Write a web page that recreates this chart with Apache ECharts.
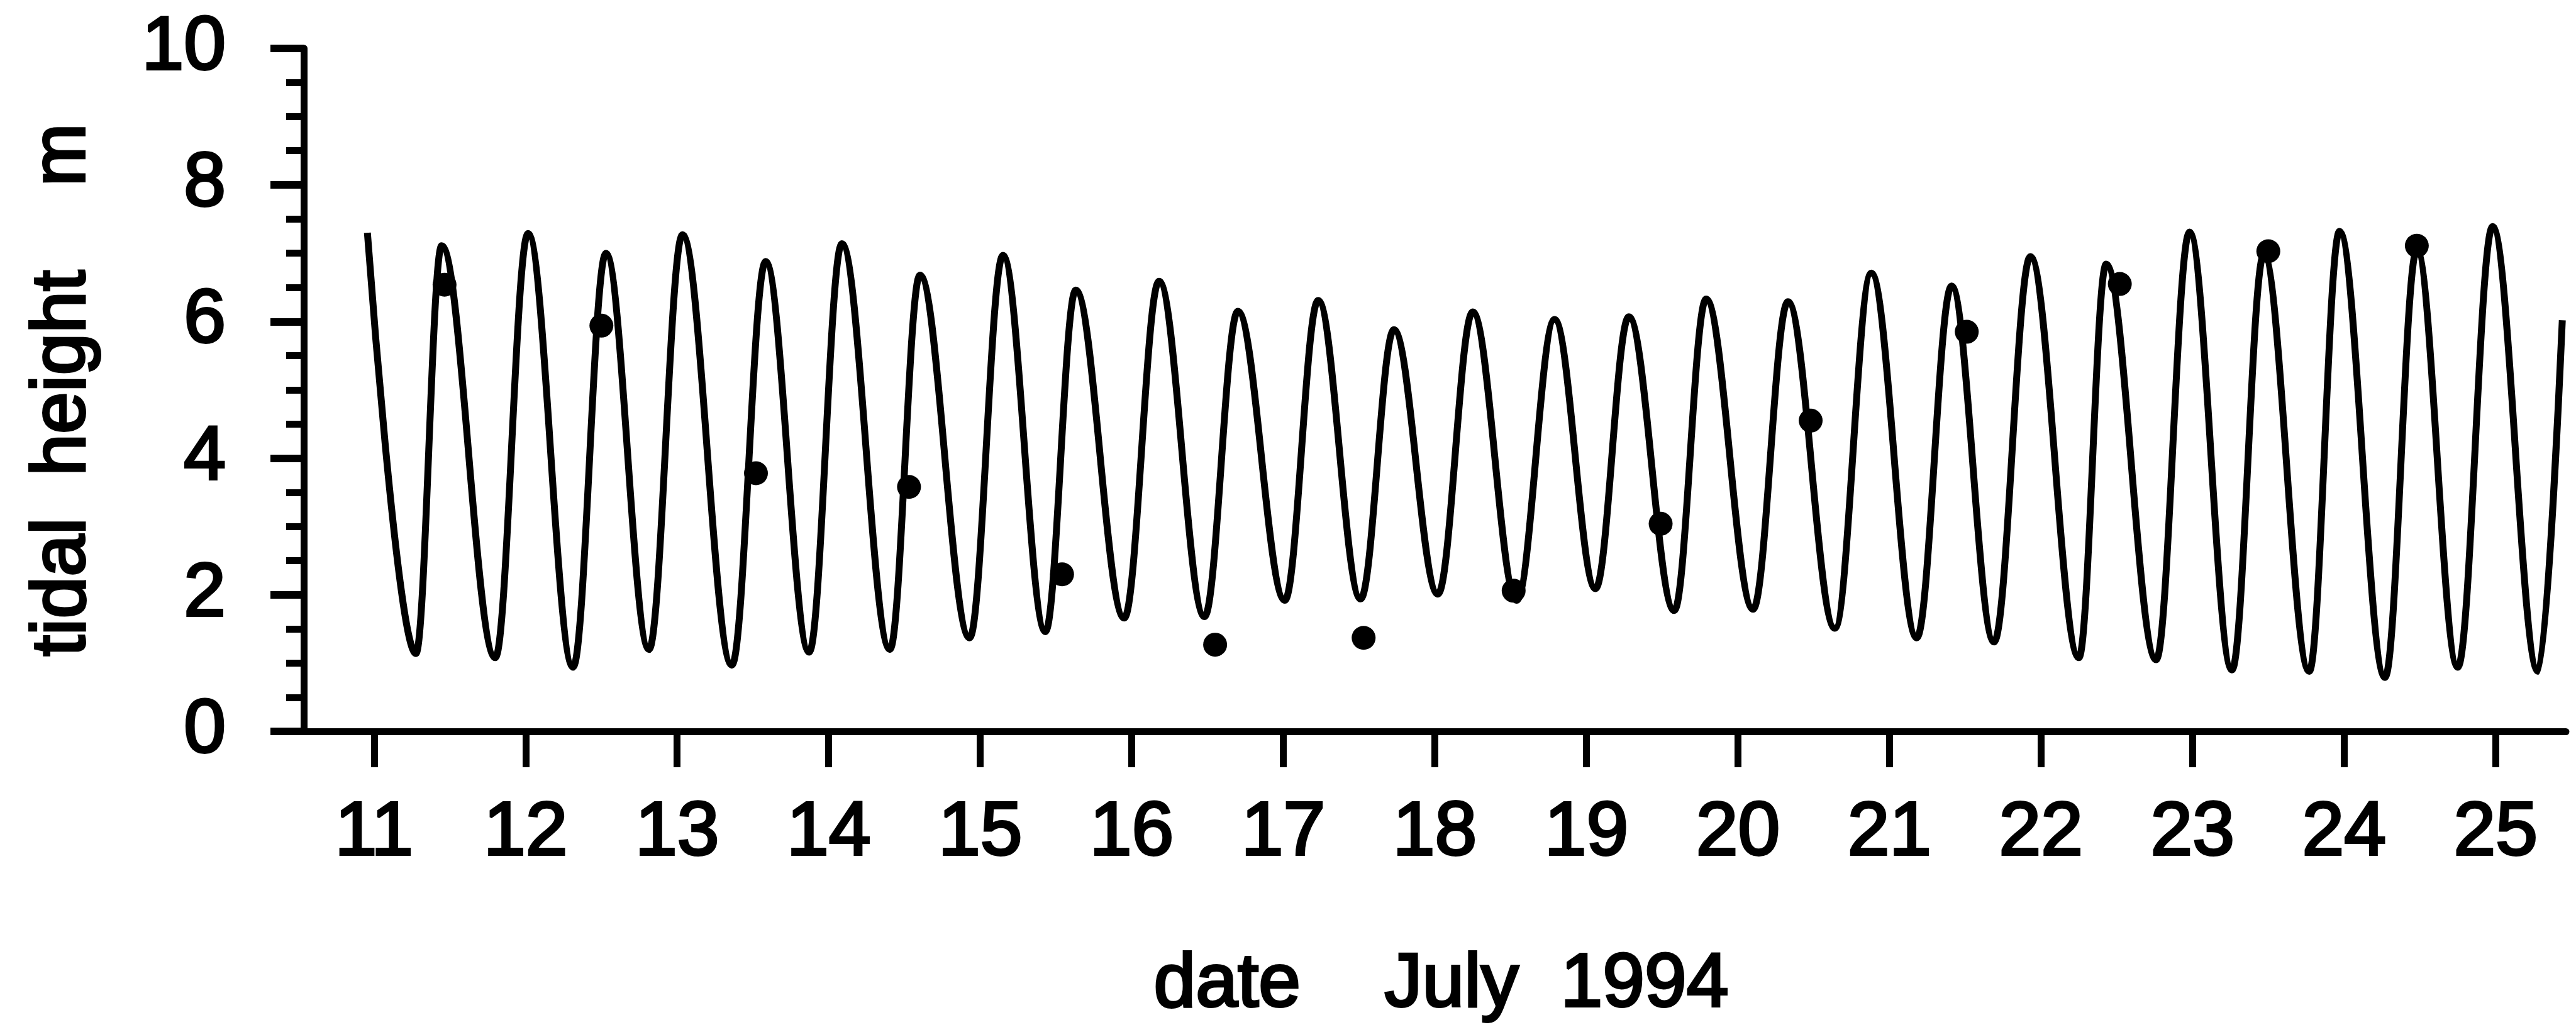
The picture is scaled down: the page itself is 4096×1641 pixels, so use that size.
<!DOCTYPE html>
<html>
<head>
<meta charset="utf-8">
<script src="https://cdn.jsdelivr.net/npm/echarts@6/dist/echarts.min.js"></script>
<style>
  html, body { margin: 0; padding: 0; background: #fff; }
  #chart { width: 4096px; height: 1641px; }
</style>
</head>
<body>
<div id="chart"></div>
<script>
// Predicted tide: times (day of July 1994) of successive highs and lows, and their heights (m)
const tideDays = [
  10.956, 11.276, 11.446, 11.80, 12.016, 12.313, 12.53, 12.814, 13.035, 13.361,
  13.584, 13.871, 14.087, 14.404, 14.602, 14.93, 15.15, 15.43, 15.63, 15.95,
  16.18, 16.48, 16.70, 17.01, 17.23, 17.51, 17.73, 18.02, 18.25, 18.54,
  18.79, 19.06, 19.28, 19.58, 19.79, 20.10, 20.33, 20.64, 20.88, 21.18,
  21.41, 21.69, 21.93, 22.25, 22.43, 22.76, 22.98, 23.26, 23.47, 23.77,
  23.97, 24.27, 24.48, 24.75, 24.98, 25.28, 25.44
];
const tideHeights = [
  7.30, 1.14, 7.11, 1.08, 7.29, 0.94, 7.00, 1.20, 7.27, 0.97,
  6.88, 1.16, 7.14, 1.20, 6.68, 1.37, 6.97, 1.46, 6.46, 1.66,
  6.59, 1.68, 6.15, 1.92, 6.31, 1.94, 5.88, 2.01, 6.14, 1.92,
  6.03, 2.09, 6.07, 1.77, 6.33, 1.79, 6.29, 1.51, 6.71, 1.37,
  6.52, 1.31, 6.95, 1.08, 6.84, 1.05, 7.31, 0.90, 6.98, 0.88,
  7.32, 0.79, 7.05, 0.94, 7.39, 0.88, 6.02
];

// Daily observations (filled dots)
const obsDays = [11.465, 12.50, 13.52, 14.53, 15.54, 16.55, 17.53, 18.52, 19.49, 20.48, 21.51, 22.52, 23.50, 24.48];
const obsHeights = [6.54, 5.94, 3.78, 3.58, 2.30, 1.27, 1.37, 2.06, 3.04, 4.55, 5.85, 6.55, 7.03, 7.11];

// Date ticks along the bottom axis
const dayTicks = [11, 12, 13, 14, 15, 16, 17, 18, 19, 20, 21, 22, 23, 24, 25];

const FONT = 'Liberation Sans';
const FS = 120;
const textBase = {
  fontFamily: FONT,
  fontSize: FS,
  lineHeight: FS,
  color: '#000',
  textBorderColor: '#000',
  textBorderWidth: 4
};
const INK = '#000';

const chart = echarts.init(document.getElementById('chart'), null, { renderer: 'canvas' });

chart.setOption({
  backgroundColor: '#fff',
  animation: false,
  grid: { left: 483, right: 16, top: 76.8, bottom: 477.9 },
  xAxis: {
    type: 'value',
    min: 10.536,
    max: 25.464,
    name: 'date    July  1994',
    nameLocation: 'middle',
    nameGap: 404,
    nameTextStyle: Object.assign({}, textBase, { verticalAlign: 'middle', padding: [0, 0, 0, 20] }),
    axisLine: { show: true, onZero: false, lineStyle: { color: INK, width: 11, cap: 'round' } },
    axisTick: { show: true, inside: false, length: 57, customValues: dayTicks, lineStyle: { color: INK, width: 11 } },
    axisLabel: Object.assign({}, textBase, { customValues: dayTicks, margin: 163, verticalAlign: 'middle', formatter: v => String(v) }),
    splitLine: { show: false },
    minorTick: { show: false }
  },
  yAxis: {
    type: 'value',
    min: 0,
    max: 10,
    interval: 2,
    name: 'tidal  height    m',
    nameLocation: 'middle',
    nameGap: 382,
    nameRotate: 90,
    nameTextStyle: Object.assign({}, textBase, { verticalAlign: 'middle' }),
    axisLine: { show: true, onZero: false, lineStyle: { color: INK, width: 11, cap: 'round' } },
    axisTick: { show: true, inside: false, length: 53, lineStyle: { color: INK, width: 12 } },
    minorTick: { show: true, splitNumber: 4, length: 28, lineStyle: { color: INK, width: 11 } },
    axisLabel: Object.assign({}, textBase, { margin: 124 }),
    splitLine: { show: false },
    minorSplitLine: { show: false }
  },
  series: [
    {
      name: 'predicted',
      type: 'line',
      data: tideDays.map((d, i) => [d, tideHeights[i]]),
      showSymbol: false,
      smooth: 0.36,
      smoothMonotone: 'x',
      lineStyle: { color: INK, width: 11 },
      z: 2
    },
    {
      name: 'observed',
      type: 'scatter',
      data: obsDays.map((d, i) => [d, obsHeights[i]]),
      symbol: 'circle',
      symbolSize: 38,
      itemStyle: { color: INK, opacity: 1 },
      z: 3
    }
  ]
});
</script>
</body>
</html>
